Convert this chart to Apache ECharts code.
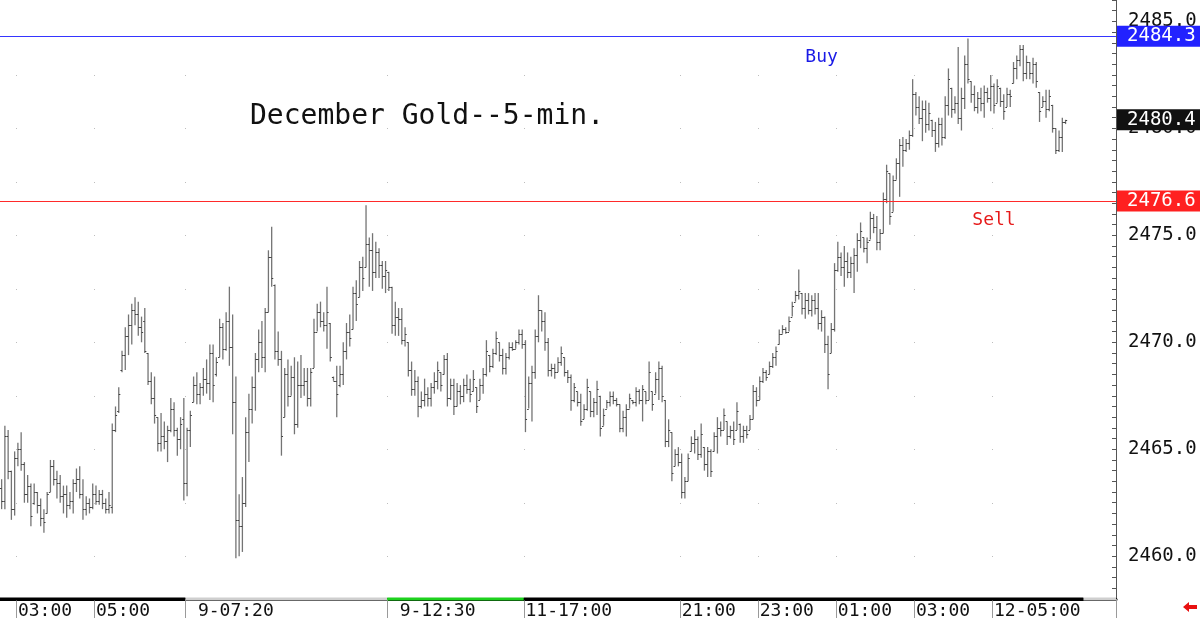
<!DOCTYPE html>
<html>
<head>
<meta charset="utf-8">
<title>December Gold 5-min</title>
<script src="https://cdn.jsdelivr.net/npm/echarts@6.0.0/dist/echarts.min.js"></script>
<style>
  html, body { margin: 0; padding: 0; background: #fff; }
  #chart { width: 1200px; height: 620px; }
</style>
</head>
<body>
<div id="chart"></div>
<script>
// 5-min bars, each row: [open, high, low, close]
const bars = [
  [2463.2,2463.6,2462.2,2462.6],[2462.6,2466.1,2462.2,2465.6],[2465.6,2465.9,2463.6,2464.0],[2464.0,2464.0,2461.7,2462.2],
  [2462.2,2464.9,2461.9,2464.6],[2464.6,2465.3,2464.2,2465.0],[2465.0,2465.8,2464.0,2464.3],[2464.3,2464.4,2462.5,2462.9],
  [2462.9,2463.8,2462.5,2463.3],[2463.3,2463.4,2461.4,2461.9],[2462.5,2463.4,2462.4,2463.0],[2463.0,2463.0,2462.0,2462.4],
  [2462.4,2462.7,2461.4,2461.8],[2461.8,2462.2,2461.1,2461.6],[2462.0,2463.0,2462.0,2462.9],[2463.0,2464.5,2463.0,2464.2],
  [2464.2,2464.5,2463.3,2463.6],[2463.6,2464.0,2462.7,2463.4],[2463.4,2463.8,2462.5,2462.8],[2462.8,2463.3,2462.0,2462.9],
  [2462.9,2463.3,2461.8,2462.4],[2462.4,2463.0,2462.2,2462.6],[2462.6,2463.6,2462.0,2463.4],[2463.4,2464.1,2463.0,2463.6],
  [2463.6,2464.2,2462.7,2462.9],[2462.9,2463.6,2461.7,2462.2],[2462.2,2462.8,2461.9,2462.5],[2462.5,2462.7,2462.0,2462.3],
  [2462.3,2463.4,2462.2,2462.9],[2462.9,2463.3,2462.4,2462.6],[2462.6,2463.1,2462.4,2462.9],[2462.9,2463.1,2462.2,2462.5],
  [2462.5,2462.7,2462.0,2462.2],[2462.2,2463.0,2462.0,2462.4],[2462.3,2466.2,2462.0,2465.9],[2465.9,2467.0,2465.8,2466.6],
  [2466.8,2467.9,2466.7,2467.6],[2468.7,2469.6,2468.6,2469.4],[2469.4,2470.7,2468.7,2470.3],[2470.3,2471.3,2469.4,2470.8],
  [2470.8,2471.8,2469.9,2471.5],[2471.5,2472.1,2470.8,2471.3],[2471.3,2471.9,2470.3,2470.7],[2470.7,2471.2,2470.0,2470.5],
  [2471.0,2471.6,2469.5,2469.6],[2469.5,2469.5,2468.0,2468.2],[2468.2,2468.6,2467.1,2467.4],[2467.4,2468.4,2466.2,2466.6],
  [2466.5,2466.5,2464.9,2465.3],[2465.3,2466.7,2464.9,2465.6],[2465.6,2466.3,2465.0,2465.4],[2465.4,2466.1,2464.4,2465.9],
  [2465.9,2467.4,2465.8,2466.9],[2466.9,2467.2,2465.6,2465.9],[2465.9,2466.0,2464.7,2465.5],[2465.5,2466.5,2465.0,2466.2],
  [2466.4,2467.4,2462.6,2463.4],[2463.4,2466.0,2462.8,2465.9],[2465.9,2466.8,2465.1,2466.6],[2467.2,2468.4,2467.2,2468.0],
  [2468.0,2468.6,2467.1,2467.6],[2467.6,2468.1,2467.1,2467.9],[2467.9,2468.8,2467.5,2468.3],[2468.3,2469.2,2467.6,2468.1],
  [2468.1,2469.9,2467.3,2469.5],[2469.5,2469.9,2467.2,2468.0],[2468.5,2469.3,2468.4,2469.1],[2469.3,2471.1,2469.3,2470.7],
  [2470.7,2470.9,2469.2,2469.7],[2469.7,2471.4,2469.6,2471.0],[2471.0,2472.6,2468.9,2469.8],[2469.8,2471.3,2465.7,2467.2],
  [2467.2,2468.4,2459.9,2461.7],[2461.7,2462.9,2460.0,2461.4],[2461.4,2463.7,2460.2,2462.5],[2462.5,2466.5,2462.3,2465.8],
  [2465.8,2467.6,2464.4,2466.9],[2466.9,2468.4,2466.2,2467.9],[2467.9,2469.5,2466.8,2469.2],[2469.2,2470.6,2468.6,2470.0],
  [2470.0,2471.0,2468.8,2469.3],[2469.3,2471.6,2468.6,2471.4],[2471.4,2474.3,2471.4,2474.0],[2474.0,2475.4,2472.6,2473.0],
  [2472.7,2472.7,2469.2,2469.6],[2469.6,2470.5,2468.9,2469.2],[2469.2,2469.6,2464.7,2465.6],[2466.5,2468.8,2466.5,2468.5],
  [2468.5,2469.2,2467.0,2467.5],[2467.5,2468.9,2467.5,2468.4],[2468.4,2469.3,2465.7,2466.2],[2466.2,2469.1,2466.0,2468.0],
  [2468.0,2469.4,2467.4,2468.0],[2468.0,2468.8,2467.5,2468.2],[2468.2,2468.8,2467.0,2467.4],[2467.4,2468.8,2467.0,2468.6],
  [2468.8,2471.1,2468.8,2470.5],[2470.5,2471.8,2470.5,2471.4],[2471.4,2471.9,2470.7,2471.0],[2471.0,2471.4,2470.5,2470.8],
  [2470.8,2472.6,2469.7,2471.4],[2470.9,2470.9,2469.1,2469.3],[2468.4,2468.4,2468.2,2468.2],[2468.2,2468.9,2466.5,2467.6],
  [2468.0,2468.9,2467.9,2468.5],[2468.5,2470.0,2468.0,2469.6],[2469.6,2470.9,2469.2,2470.5],[2470.5,2471.3,2469.8,2470.2],
  [2470.6,2472.6,2470.6,2472.3],[2472.3,2472.9,2471.0,2471.8],[2472.1,2473.8,2472.1,2473.5],[2473.5,2474.0,2472.4,2473.0],
  [2473.5,2476.4,2473.5,2474.6],[2474.6,2474.9,2472.6,2474.3],[2474.3,2475.1,2472.4,2473.3],[2473.3,2474.7,2473.0,2474.2],
  [2474.2,2474.4,2473.0,2473.6],[2473.6,2473.8,2472.5,2473.1],[2473.1,2473.8,2472.3,2473.4],[2473.3,2473.3,2472.4,2472.6],
  [2472.6,2472.6,2470.4,2470.8],[2470.8,2471.9,2470.3,2471.2],[2471.2,2471.6,2470.3,2471.1],[2471.1,2471.6,2469.9,2470.1],
  [2470.1,2470.7,2469.8,2470.4],[2470.0,2470.0,2468.4,2468.7],[2468.7,2469.1,2467.5,2467.8],[2467.8,2468.7,2467.5,2468.2],
  [2468.2,2468.4,2466.5,2467.0],[2467.0,2467.7,2466.9,2467.3],[2467.3,2468.3,2467.0,2467.6],[2467.6,2467.9,2467.0,2467.4],
  [2467.4,2468.1,2467.0,2467.9],[2467.9,2468.6,2467.6,2468.2],[2468.2,2469.1,2467.8,2468.7],[2468.6,2468.6,2467.7,2468.0],
  [2468.5,2469.4,2468.5,2469.2],[2469.2,2469.5,2467.0,2467.4],[2467.4,2468.3,2467.3,2468.0],[2468.0,2468.3,2466.6,2467.0],
  [2467.0,2468.1,2467.0,2467.7],[2467.7,2468.0,2467.1,2467.5],[2467.5,2468.3,2467.2,2468.0],[2468.0,2468.5,2467.6,2467.8],
  [2467.8,2468.3,2467.2,2467.6],[2467.7,2468.7,2467.7,2468.3],[2467.9,2467.9,2466.7,2467.0],[2467.3,2468.3,2467.3,2468.0],
  [2468.0,2468.8,2467.6,2468.5],[2468.5,2470.1,2468.4,2469.6],[2469.4,2469.4,2468.6,2468.9],[2468.9,2469.7,2468.8,2469.5],
  [2469.5,2470.5,2469.4,2470.2],[2470.0,2470.0,2469.1,2469.4],[2469.4,2469.7,2468.5,2468.8],[2468.8,2469.5,2468.5,2469.3],
  [2469.3,2470.0,2469.2,2469.8],[2469.8,2470.0,2469.6,2469.7],[2469.7,2470.1,2469.7,2470.0],[2470.0,2470.6,2469.9,2470.4],
  [2470.4,2470.6,2469.7,2469.9],[2469.9,2470.1,2465.8,2466.4],[2466.9,2468.4,2466.9,2468.1],[2468.1,2468.9,2466.3,2468.6],
  [2468.6,2470.6,2468.3,2470.3],[2470.3,2472.2,2470.0,2471.5],[2471.5,2471.5,2470.5,2471.0],[2471.0,2471.4,2469.6,2470.0],
  [2470.0,2470.2,2468.4,2468.7],[2468.7,2469.0,2468.4,2468.8],[2468.8,2469.0,2468.3,2468.6],[2468.6,2469.3,2468.6,2469.1],
  [2469.1,2469.8,2468.9,2469.5],[2469.3,2469.3,2468.4,2468.6],[2468.6,2468.7,2468.1,2468.4],[2468.4,2468.5,2466.8,2467.3],
  [2467.3,2468.1,2467.2,2467.9],[2467.7,2467.7,2467.0,2467.2],[2467.2,2467.6,2466.1,2466.3],[2466.4,2467.1,2466.4,2466.9],
  [2466.9,2468.3,2466.8,2467.9],[2467.7,2467.7,2466.5,2466.8],[2466.8,2467.4,2466.5,2467.2],[2467.2,2468.2,2466.6,2467.8],
  [2467.5,2467.5,2465.6,2466.0],[2466.1,2466.9,2466.1,2466.6],[2466.9,2467.3,2466.9,2467.2],[2467.2,2467.7,2467.0,2467.5],
  [2467.5,2467.7,2467.1,2467.3],[2467.3,2467.4,2467.0,2467.1],[2467.1,2467.1,2465.8,2466.0],[2466.0,2466.8,2465.8,2466.5],
  [2466.5,2467.1,2465.6,2466.9],[2466.9,2467.6,2466.9,2467.4],[2467.3,2467.3,2467.1,2467.2],[2467.2,2467.9,2467.0,2467.7],
  [2467.7,2467.8,2467.1,2467.3],[2467.3,2468.0,2466.3,2467.8],[2467.7,2467.7,2467.1,2467.3],[2467.3,2469.1,2467.3,2468.6],
  [2467.7,2467.7,2466.8,2467.1],[2467.6,2468.6,2467.6,2468.3],[2468.3,2469.1,2467.3,2468.8],[2468.8,2468.9,2467.2,2467.5],
  [2467.3,2467.3,2465.1,2465.4],[2465.4,2466.4,2465.1,2465.9],[2465.8,2465.8,2463.5,2463.9],[2464.2,2465.0,2464.2,2464.8],
  [2464.8,2465.1,2464.2,2464.4],[2464.4,2464.8,2462.7,2463.0],[2463.0,2463.7,2462.7,2463.5],[2463.5,2464.8,2463.5,2464.6],
  [2464.9,2465.6,2464.9,2465.3],[2465.3,2465.9,2464.8,2465.5],[2465.5,2465.6,2464.5,2464.8],[2464.8,2466.2,2464.6,2465.7],
  [2465.1,2465.1,2464.0,2464.3],[2464.3,2465.1,2463.7,2464.9],[2464.9,2465.0,2463.7,2464.0],[2464.9,2465.8,2464.9,2465.6],
  [2465.6,2466.5,2464.8,2466.0],[2466.0,2466.3,2465.6,2465.9],[2465.9,2466.9,2465.9,2466.6],[2466.3,2466.3,2465.2,2465.6],
  [2465.6,2466.1,2465.5,2465.9],[2465.9,2466.3,2465.2,2465.5],[2465.9,2467.2,2465.9,2466.8],[2466.2,2466.2,2465.3,2465.6],
  [2465.6,2466.1,2465.3,2465.9],[2465.9,2466.1,2465.5,2465.7],[2465.9,2466.6,2465.9,2466.4],[2466.4,2468.0,2466.4,2467.7],
  [2467.7,2467.9,2467.0,2467.3],[2467.3,2468.4,2467.3,2468.2],[2468.2,2468.8,2468.1,2468.6],[2468.6,2468.7,2468.2,2468.4],
  [2468.5,2469.1,2468.5,2468.9],[2468.9,2469.5,2468.8,2469.3],[2469.3,2469.8,2468.9,2469.6],[2469.9,2470.6,2469.9,2470.4],
  [2470.4,2470.8,2470.4,2470.6],[2470.6,2470.7,2470.4,2470.5],[2470.5,2471.2,2470.5,2471.0],[2471.2,2471.9,2471.2,2471.7],
  [2471.9,2472.4,2471.9,2472.2],[2472.2,2473.4,2472.0,2472.4],[2472.3,2472.3,2471.3,2471.6],[2471.6,2472.3,2471.1,2472.0],
  [2472.0,2472.3,2471.3,2471.5],[2471.5,2472.2,2471.2,2472.0],[2472.0,2472.3,2471.3,2471.6],[2471.6,2472.3,2470.6,2470.9],
  [2470.9,2471.5,2470.5,2471.2],[2471.2,2471.2,2469.5,2469.9],[2469.9,2470.3,2467.8,2468.5],[2469.5,2470.9,2469.5,2470.6],
  [2470.6,2473.7,2470.5,2473.4],[2473.4,2474.7,2473.3,2474.0],[2474.0,2474.2,2473.1,2473.5],[2473.5,2474.5,2472.6,2473.8],
  [2473.8,2474.2,2473.0,2473.3],[2473.3,2474.0,2473.0,2473.7],[2473.7,2474.4,2472.3,2474.1],[2474.1,2475.1,2473.3,2474.8],
  [2474.8,2475.6,2474.4,2475.2],[2474.9,2474.9,2474.2,2474.4],[2474.4,2474.9,2473.7,2474.7],[2474.8,2476.1,2474.8,2475.8],
  [2475.8,2476.0,2475.1,2475.4],[2475.4,2475.9,2474.3,2474.7],[2474.7,2475.3,2474.3,2475.1],[2475.1,2477.0,2475.1,2476.7],
  [2476.7,2478.3,2476.5,2478.0],[2477.9,2477.9,2475.5,2475.9],[2476.1,2477.8,2476.1,2477.6],[2477.6,2478.6,2477.6,2478.4],
  [2478.4,2479.5,2476.8,2479.2],[2479.2,2479.6,2478.2,2479.0],[2479.0,2479.5,2478.9,2479.3],[2479.3,2479.9,2479.0,2479.7],
  [2479.7,2482.3,2479.6,2481.6],[2481.6,2481.7,2480.6,2481.0],[2481.0,2481.5,2480.2,2480.5],[2480.5,2481.3,2479.4,2480.9],
  [2480.9,2481.3,2479.8,2480.2],[2480.2,2481.2,2479.9,2480.7],[2480.4,2480.4,2479.6,2479.9],[2479.9,2480.3,2478.9,2479.3],
  [2479.3,2480.5,2479.1,2480.2],[2480.2,2480.5,2479.2,2479.6],[2479.6,2481.5,2479.5,2481.1],[2481.1,2482.8,2480.6,2482.3],
  [2481.9,2481.9,2480.5,2480.9],[2480.9,2481.5,2480.7,2481.2],[2481.2,2483.8,2480.2,2480.5],[2480.5,2481.9,2479.9,2481.4],
  [2481.4,2483.4,2480.9,2483.0],[2483.0,2484.2,2482.1,2482.3],[2482.2,2482.2,2481.2,2481.6],[2481.6,2482.0,2480.8,2481.0],
  [2481.0,2481.7,2480.7,2481.4],[2481.4,2481.9,2480.8,2481.2],[2481.2,2482.0,2480.5,2481.7],[2481.7,2481.9,2481.2,2481.4],
  [2481.4,2482.5,2480.8,2482.0],[2482.0,2482.1,2480.7,2481.1],[2481.2,2482.3,2481.2,2482.0],[2481.9,2481.9,2481.0,2481.3],
  [2481.3,2481.6,2480.4,2480.8],[2481.0,2481.9,2481.0,2481.6],[2481.6,2481.8,2481.0,2481.5],[2482.1,2483.1,2482.1,2482.8],
  [2482.8,2483.4,2482.3,2483.2],[2483.2,2483.9,2482.9,2483.7],[2483.7,2483.9,2482.2,2482.6],[2482.6,2483.4,2482.3,2483.1],
  [2483.1,2483.1,2482.3,2482.6],[2482.6,2483.3,2482.1,2483.0],[2483.0,2483.1,2481.9,2482.2],[2481.7,2481.7,2480.3,2480.8],
  [2481.0,2481.5,2481.0,2481.3],[2481.3,2481.8,2480.5,2480.9],[2480.9,2481.8,2480.8,2481.5],[2481.1,2481.1,2479.8,2480.0],
  [2480.0,2480.0,2478.8,2479.0],[2479.0,2479.9,2478.9,2479.6],[2479.6,2480.5,2478.9,2480.3],[2480.3,2480.4,2480.2,2480.4]
];

// time separators on the x axis (slot index where the label starts)
const tickIndex = [5, 29, 57, 119, 161, 209, 233, 257, 281, 305];
const tickText = ['03:00', '05:00', ' 9-07:20', ' 9-12:30', '11-17:00', '21:00', '23:00', '01:00', '03:00', '12-05:00'];
const slotCount = 343;

// coloured session strip along the bottom edge: [fromSlot, toSlot, colour]
const sessions = [[0, 57, '#000000'], [57, 119, '#cfcfcf'], [119, 161, '#1ed21e'], [161, 333, '#000000'], [333, 343, '#cfcfcf']];

// faint grid dots at the time separators
const dotLevels = [2460, 2462.5, 2465, 2467.5, 2470, 2472.5, 2475, 2477.5, 2480, 2482.5];

const buyLevel = 2484.3;
const sellLevel = 2476.6;
const lastPrice = 2480.4;

const FONT = '"DejaVu Sans Mono", "Liberation Mono", monospace';
const BAR_COLOR = '#747474';

const slots = Array.from({ length: slotCount }, (_, i) => String(i));
const seriesData = bars.map((b, i) => [i, b[0], b[1], b[2], b[3]]);

function renderBar(params, api) {
  const i = api.value(0);
  const pO = api.coord([i, api.value(1)]);
  const pH = api.coord([i, api.value(2)]);
  const pL = api.coord([i, api.value(3)]);
  const pC = api.coord([i, api.value(4)]);
  const x = pH[0];
  const st = { stroke: BAR_COLOR, lineWidth: 1.3 };
  const tk = { stroke: '#404040', lineWidth: 1 };
  const yo = Math.round(pO[1]) + 0.5;
  const yc = Math.round(pC[1]) + 0.5;
  return {
    type: 'group',
    children: [
      { type: 'line', shape: { x1: x, y1: pH[1], x2: x, y2: pL[1] }, style: st },
      { type: 'line', shape: { x1: x - 1.6, y1: yo, x2: x, y2: yo }, style: tk },
      { type: 'line', shape: { x1: x, y1: yc, x2: x + 1.6, y2: yc }, style: tk }
    ]
  };
}

// coloured price tag on the price axis (the level line itself is drawn crisp below)
function tagSeries(value, tagColor) {
  return {
    type: 'line',
    data: [],
    silent: true,
    markLine: {
      silent: true,
      symbol: 'none',
      animation: false,
      lineStyle: { color: 'rgba(0,0,0,0)', width: 1 },
      label: {
        show: true,
        position: 'end',
        distance: 1,
        formatter: (p) => p.value.toFixed(1),
        color: '#fff',
        backgroundColor: tagColor,
        fontFamily: FONT,
        fontSize: 19,
        lineHeight: 18,
        padding: [2, 10, 1, 10]
      },
      data: [{ yAxis: value }]
    }
  };
}

const chart = echarts.init(document.getElementById('chart'));

chart.setOption({
  animation: false,
  backgroundColor: '#fff',
  title: {
    text: 'December Gold--5-min.',
    left: 245,
    top: 98,
    textStyle: { fontFamily: FONT, fontSize: 28, fontWeight: 'normal', color: '#111' }
  },
  grid: { left: 0, right: 84, top: 0, bottom: 20 },
  xAxis: {
    type: 'category',
    data: slots,
    boundaryGap: true,
    axisLine: { lineStyle: { color: '#000', width: 3 } },
    axisTick: {
      show: true,
      interval: (idx) => tickIndex.indexOf(idx) >= 0,
      length: 19,
      lineStyle: { color: '#9a9a9a', width: 1 }
    },
    axisLabel: {
      interval: (idx) => tickIndex.indexOf(idx) >= 0,
      formatter: (v, idx) => tickText[tickIndex.indexOf(idx)] || '',
      align: 'left',
      margin: 3,
      fontFamily: FONT,
      fontSize: 18,
      color: '#111'
    },
    splitLine: { show: false }
  },
  yAxis: {
    type: 'value',
    position: 'right',
    min: 2458,
    max: 2486,
    interval: 0.5,
    axisLine: { show: true, lineStyle: { color: '#555' } },
    axisTick: { show: true, inside: true, length: 4, lineStyle: { color: '#555' } },
    axisLabel: {
      margin: 12,
      fontFamily: FONT,
      fontSize: 19,
      color: '#111',
      formatter: (v) => (Math.abs(v % 5) < 1e-6 ? v.toFixed(1) : '')
    },
    splitLine: { show: false }
  },
  series: [
    {
      type: 'custom',
      renderItem: renderBar,
      encode: { x: 0, y: [1, 2, 3, 4] },
      data: seriesData,
      clip: true,
      z: 3,
      markPoint: {
        silent: true,
        symbol: 'rect',
        symbolSize: 0,
        data: [
          { coord: [252, 2483.3], label: { show: true, formatter: 'Buy', color: '#1a1ae6', fontFamily: FONT, fontSize: 18 } },
          { coord: [305, 2475.7], label: { show: true, formatter: 'Sell', color: '#e61a1a', fontFamily: FONT, fontSize: 18 } }
        ]
      }
    },
    tagSeries(buyLevel, '#2222ff'),
    tagSeries(sellLevel, '#ff2020'),
    tagSeries(lastPrice, '#111111')
  ]
});

// crisp level lines, session strip, grid dots and the small red arrow, all placed from the axis scales
const toX = (slot) => chart.convertToPixel({ xAxisIndex: 0 }, slot);
const toY = (price) => chart.convertToPixel({ yAxisIndex: 0 }, price);
const band = toX(1) - toX(0);
const xRight = toX(slotCount - 1) + band / 2;
const yBase = toY(2458);

const levelLine = (price, color) => {
  const y = Math.round(toY(price)) + 0.5;
  return { type: 'line', z: 15, silent: true, shape: { x1: 0, y1: y, x2: xRight, y2: y }, style: { stroke: color, lineWidth: 1 } };
};

const strips = sessions.map((s) => {
  const x0 = toX(s[0]) - band / 2;
  const x1 = s[1] >= slotCount ? xRight : toX(s[1]) - band / 2;
  return { type: 'rect', z: 20, silent: true, shape: { x: x0, y: yBase - 1.5, width: x1 - x0, height: 3 }, style: { fill: s[2] } };
});

const dots = [];
tickIndex.forEach((t) => {
  const x = Math.round(toX(t) - band / 2);
  dotLevels.forEach((lv) => {
    dots.push({ type: 'rect', z: 1, silent: true, shape: { x: x, y: Math.round(toY(lv)), width: 1, height: 1 }, style: { fill: '#bdbdbd' } });
  });
});

chart.setOption({
  graphic: [levelLine(buyLevel, '#3535ff'), levelLine(sellLevel, '#ff2a2a')]
    .concat(strips, dots, [{
      type: 'polygon',
      z: 20,
      silent: true,
      shape: { points: [[1183, 607], [1189, 602], [1189, 605], [1197, 605], [1197, 609], [1189, 609], [1189, 612]] },
      style: { fill: '#e81010' }
    }])
});
</script>
</body>
</html>
